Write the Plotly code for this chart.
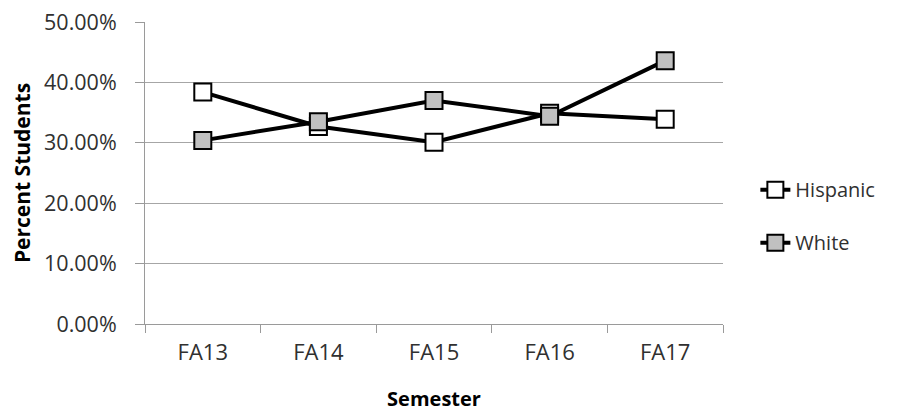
import plotly.graph_objects as go

semesters = ["FA13", "FA14", "FA15", "FA16", "FA17"]
hispanic = [0.384, 0.327, 0.301, 0.349, 0.339]
white = [0.304, 0.335, 0.370, 0.344, 0.436]

FONT = "'Open Sans', Lato, sans-serif"
TXT = "#303030"

fig = go.Figure()
fig.add_trace(go.Scatter(
    x=semesters, y=hispanic, name="Hispanic", mode="lines+markers",
    line=dict(color="black", width=4),
    marker=dict(symbol="square", size=17, color="white", line=dict(color="black", width=2)),
    legendgroup="h",
))
fig.add_trace(go.Scatter(
    x=semesters, y=white, name="White", mode="lines+markers",
    line=dict(color="black", width=4),
    marker=dict(symbol="square", size=17, color="#c0c0c0", line=dict(color="black", width=2)),
    legendgroup="w",
))

fig.update_layout(
    width=906, height=404,
    margin=dict(l=137, r=191, t=14, b=88, autoexpand=False),
    paper_bgcolor="white", plot_bgcolor="white",
    font=dict(family=FONT, size=21, color=TXT),
    legend=dict(x=1.056, y=0.357, xanchor="left", yanchor="middle",
                font=dict(size=20, color=TXT), tracegroupgap=24),
    showlegend=True,
)
fig.update_xaxes(
    type="category", showline=True, linecolor="#9a9a9a", linewidth=1,
    ticks="outside", tickson="boundaries", ticklen=8, tickcolor="#9a9a9a",
    showgrid=False, ticklabelstandoff=9, automargin=False,
    ticklabeloverflow="allow",
    title=dict(text="<b>Semester</b>", font=dict(size=20, color="black"), standoff=26),
    tickfont=dict(size=22), range=[-0.5, 4.5],
)
fig.update_yaxes(
    range=[0, 0.5], dtick=0.1, tickformat=".2%",
    showline=True, linecolor="#9a9a9a", linewidth=1,
    ticks="outside", ticklen=9, tickcolor="#9a9a9a",
    showgrid=True, gridcolor="#a6a6a6", gridwidth=1,
    zeroline=False, ticklabelstandoff=14, automargin=False,
    ticklabeloverflow="allow",
    title=dict(text="<b>Percent Students</b>", font=dict(size=21, color="black"), standoff=14),
    tickfont=dict(size=21.5),
)

fig.write_html("out.html")
